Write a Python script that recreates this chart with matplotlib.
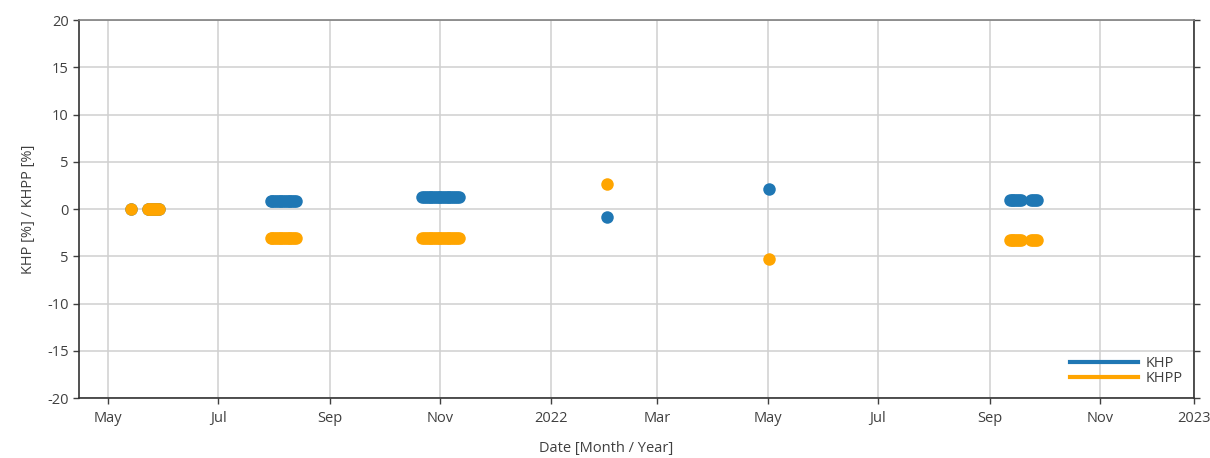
# KHP / KHPP daily deviation scatter

import pandas as pd
import matplotlib.pyplot as plt

plt.rcParams['font.family'] = ['Open Sans', 'DejaVu Sans']

# measurement days
dates = [
    '2021-05-14',
    '2021-05-23', '2021-05-24', '2021-05-25', '2021-05-26', '2021-05-27', '2021-05-28', '2021-05-29',
    '2021-07-30', '2021-07-31', '2021-08-01', '2021-08-02', '2021-08-03', '2021-08-04', '2021-08-05',
    '2021-08-06', '2021-08-07', '2021-08-08', '2021-08-09', '2021-08-10', '2021-08-11', '2021-08-12',
    '2021-08-13',
    '2021-10-22', '2021-10-23', '2021-10-24', '2021-10-25', '2021-10-26', '2021-10-27', '2021-10-28',
    '2021-10-29', '2021-10-30', '2021-10-31', '2021-11-01', '2021-11-02', '2021-11-03', '2021-11-04',
    '2021-11-05', '2021-11-06', '2021-11-07', '2021-11-08', '2021-11-09', '2021-11-10', '2021-11-11',
    '2022-02-01',
    '2022-05-02',
    '2022-09-12', '2022-09-13', '2022-09-14', '2022-09-15', '2022-09-16', '2022-09-17', '2022-09-18',
    '2022-09-24', '2022-09-25', '2022-09-26', '2022-09-27',
]

khp = ([0.0] * 8 + [0.9] * 15 + [1.3] * 21 + [-0.8] + [2.1] + [1.0] * 11)
khpp = ([0.0] * 8 + [-3.1] * 15 + [-3.1] * 21 + [2.6] + [-5.3] + [-3.3] * 11)

tick_dates = ['2021-05-01', '2021-07-01', '2021-09-01', '2021-11-01', '2022-01-01', '2022-03-01',
              '2022-05-01', '2022-07-01', '2022-09-01', '2022-11-01', '2022-12-23']
tick_labels = ['May', 'Jul', 'Sep', 'Nov', '2022', 'Mar', 'May', 'Jul', 'Sep', 'Nov', '2023']
y_ticks = [20, 15, 10, 5, 0, -5, -10, -15, -20]
y_labels = ['20', '15', '10', '5', '0', '5', '-10', '-15', '-20']

BLUE = '#1f77b4'
ORANGE = '#ffa500'
TXT = '#404040'
FS = 10.5

d = pd.to_datetime(dates)

fig = plt.figure(figsize=(12.1, 4.58), dpi=100)
ax = fig.add_axes([0.0653, 0.131, 0.9215, 0.8253])

ax.plot(d, khp, 'o', color=BLUE, markersize=9, markeredgewidth=0, zorder=3)
ax.plot(d, khpp, 'o', color=ORANGE, markersize=9, markeredgewidth=0, zorder=4)

# legend shows plain lines
ax.plot([], [], color=BLUE, lw=3, label='KHP')
ax.plot([], [], color=ORANGE, lw=3, label='KHPP')
leg = ax.legend(loc='lower right', frameon=False, handlelength=4.65, fontsize=FS,
                labelspacing=0.05, handletextpad=0.5, borderaxespad=0.4)
for t in leg.get_texts():
    t.set_color(TXT)

ax.set_xlim(pd.Timestamp('2021-04-15'), pd.Timestamp('2022-12-23'))
ax.set_ylim(-20, 20)
ax.set_xticks(pd.to_datetime(tick_dates))
ax.set_xticklabels(tick_labels)
ax.set_yticks(y_ticks)
ax.set_yticklabels(y_labels)

ax.grid(True, color='#d0d0d0', lw=1.1)
ax.set_axisbelow(True)
ax.tick_params(axis='both', labelsize=FS, colors=TXT, length=4, width=1)
ax.tick_params(axis='y', right=True, direction='out')
ax.tick_params(axis='x', pad=5)
for s in ax.spines.values():
    s.set_color('#333333')
    s.set_linewidth(1.2)
ax.spines['top'].set_color('#808080')

ax.set_xlabel('Date [Month / Year]', fontsize=FS, color=TXT, labelpad=11)
ax.xaxis.set_label_coords(0.473, -0.115)
ax.set_ylabel('KHP [%] / KHPP [%]', fontsize=FS, color=TXT, labelpad=8)

fig.savefig('out.png', dpi=100)
